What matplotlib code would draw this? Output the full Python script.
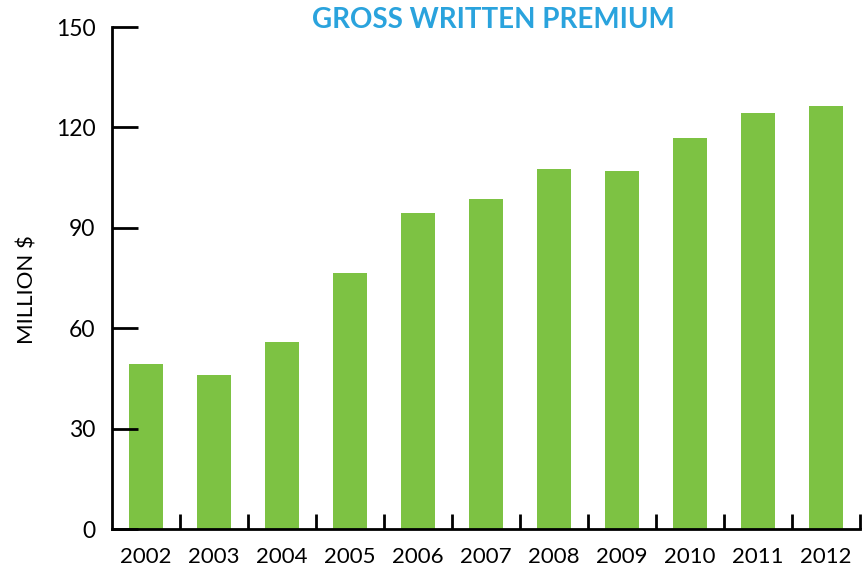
import numpy as np
import matplotlib.pyplot as plt

# data
years = ['2002', '2003', '2004', '2005', '2006', '2007',
         '2008', '2009', '2010', '2011', '2012']
premium = [49.3, 46.0, 55.9, 76.5, 94.4, 98.6,
           107.6, 107.0, 116.8, 124.3, 126.4]
y_ticks = [0, 30, 60, 90, 120, 150]

plt.rcParams['font.family'] = ['Lato', 'DejaVu Sans']

fig = plt.figure(figsize=(8.63, 5.75), dpi=100)
ax = fig.add_axes([0.1298, 0.08, 0.8667, 0.873])

x = np.arange(len(years))
ax.bar(x, premium, width=0.5, color='#7DC243', zorder=1)

ax.set_xlim(-0.5, len(years) - 0.5)
ax.set_ylim(0, 150)

# spines
for side in ['top', 'right']:
    ax.spines[side].set_visible(False)
for side in ['left', 'bottom']:
    ax.spines[side].set_linewidth(2)
    ax.spines[side].set_color('black')
    ax.spines[side].set_zorder(3)

# y ticks point inward
ax.set_yticks(y_ticks)
ax.set_yticklabels([str(v) for v in y_ticks])
ax.tick_params(axis='y', direction='in', length=19, width=2, pad=12,
               labelsize=16.5, colors='black')

# x labels at bar centres, tick marks between categories
ax.set_xticks(x)
ax.set_xticklabels(years)
ax.tick_params(axis='x', which='major', length=0, pad=13, labelsize=16)
ax.set_xticks(np.arange(0.5, len(years), 1.0), minor=True)
ax.tick_params(axis='x', which='minor', direction='in', length=11, width=2)

ax.set_ylabel('MILLION $', fontsize=16)
ax.yaxis.set_label_coords(-0.1, 0.476)

fig.text(0.572, 0.965, 'GROSS WRITTEN PREMIUM', color='#2AA3DD',
         fontsize=20, fontweight='bold', ha='center', va='center')

fig.savefig('out.png', dpi=100)
